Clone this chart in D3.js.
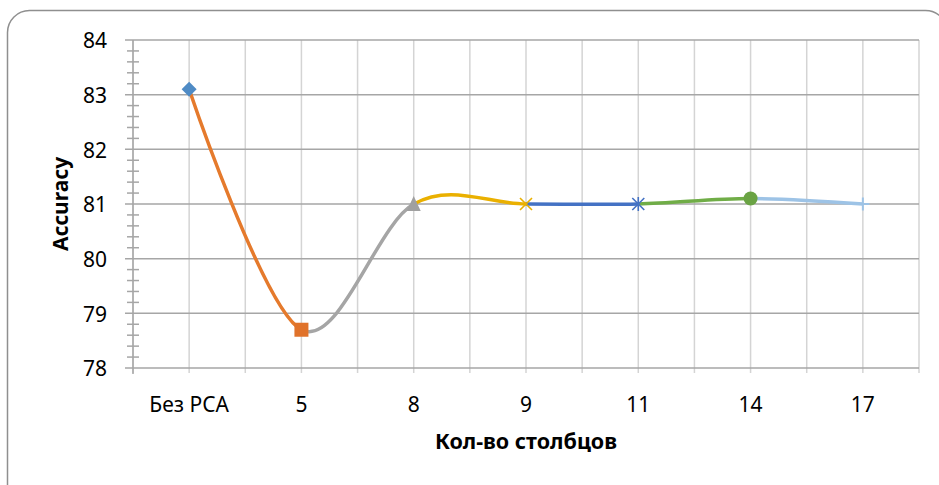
<!DOCTYPE html>
<html>
<head>
<meta charset="utf-8">
<script src="https://cdn.jsdelivr.net/npm/d3@7"></script>
<style>
  html, body { margin: 0; padding: 0; background: #fff; }
  svg { display: block; font-family: "Noto Sans", "Open Sans", sans-serif; }
</style>
</head>
<body>
<svg id="chart" width="939" height="485"></svg>
<script>
// Accuracy by number of kept columns
const categories = ["Без PCA", "5", "8", "9", "11", "14", "17"];
const accuracy = [83.1, 78.7, 81, 81, 81, 81.1, 81];
const yTicks = [78, 79, 80, 81, 82, 83, 84];
const segmentColors = ["#e57a2c", "#a5a5a5", "#eab000", "#4472c4", "#70ad47", "#9dc3e6"];
const markerShapes = ["diamond", "square", "triangle", "x", "asterisk", "circle", "plus"];
const markerColors = ["#4f8bc5", "#e0722a", "#a0a0a0", "#eab000", "#4472c4", "#6aa344", "#9dc3e6"];

const svg = d3.select("#chart");
const W = 939, H = 485;
const m = { left: 133, right: 20, top: 40, bottom: 117 };
const x0 = m.left, x1 = W - m.right, yTop = m.top, yBot = H - m.bottom;

// outer frame with rounded corners
svg.append("rect")
  .attr("x", 7.5).attr("y", 10.5)
  .attr("width", 940).attr("height", 500)
  .attr("rx", 22).attr("ry", 22)
  .attr("fill", "#fff").attr("stroke", "#8f8f8f").attr("stroke-width", 1.5);

const x = d3.scalePoint().domain(categories).range([x0, x1]).padding(0.5);
const y = d3.scaleLinear().domain([78, 84]).range([yBot, yTop]);
const step = x.step();

// vertical gridlines at category centres and boundaries
const vLines = d3.range(0, categories.length * 2 + 1).map(i => x0 + i * step / 2);
svg.append("g").selectAll("line").data(vLines).join("line")
  .attr("x1", d => d).attr("x2", d => d)
  .attr("y1", yTop).attr("y2", yBot + 5)
  .attr("stroke", "#d4d4d4").attr("stroke-width", 1.5);

// horizontal gridlines
svg.append("g").selectAll("line").data(yTicks).join("line")
  .attr("x1", x0 - 8).attr("x2", x1)
  .attr("y1", d => y(d)).attr("y2", d => y(d))
  .attr("stroke", "#a6a6a6").attr("stroke-width", 1.5);

// y axis line and minor ticks
svg.append("line")
  .attr("x1", x0).attr("x2", x0).attr("y1", yTop).attr("y2", yBot + 6)
  .attr("stroke", "#a6a6a6").attr("stroke-width", 1.5);
const minor = d3.range(78, 84.001, 0.2).filter(v => Math.abs(v - Math.round(v)) > 0.01);
svg.append("g").selectAll("line").data(minor).join("line")
  .attr("x1", x0 - 6).attr("x2", x0 + 6)
  .attr("y1", d => y(d)).attr("y2", d => y(d))
  .attr("stroke", "#a6a6a6").attr("stroke-width", 1.5);

// y tick labels
svg.append("g").selectAll("text").data(yTicks).join("text")
  .attr("x", 107).attr("y", d => y(d) + 1)
  .attr("dy", "0.35em")
  .attr("text-anchor", "end")
  .attr("font-size", 21).attr("fill", "#000")
  .text(d => d);

// x tick labels
svg.append("g").selectAll("text").data(categories).join("text")
  .attr("x", d => x(d)).attr("y", 412)
  .attr("text-anchor", "middle")
  .attr("font-size", 21).attr("fill", "#000")
  .text(d => d);

// axis titles
svg.append("text")
  .attr("x", (x0 + x1) / 2).attr("y", 449)
  .attr("text-anchor", "middle")
  .attr("font-size", 21.5).attr("font-weight", "bold")
  .text("Кол-во столбцов");
svg.append("text")
  .attr("transform", `translate(68, ${(yTop + yBot) / 2}) rotate(-90)`)
  .attr("text-anchor", "middle")
  .attr("font-size", 21).attr("font-weight", "bold")
  .text("Accuracy");

// smoothed line through all points, each segment shown in its own colour
const pts = categories.map((c, i) => [x(c), y(accuracy[i])]);
const line = d3.line().curve(d3.curveCatmullRom.alpha(0));
const defs = svg.append("defs");
segmentColors.forEach((col, i) => {
  const id = "seg" + i;
  defs.append("clipPath").attr("id", id)
    .append("rect")
    .attr("x", pts[i][0]).attr("y", 0)
    .attr("width", pts[i + 1][0] - pts[i][0]).attr("height", H);
  svg.append("path")
    .attr("d", line(pts))
    .attr("clip-path", `url(#${id})`)
    .attr("fill", "none")
    .attr("stroke", col).attr("stroke-width", 3.5);
});

// markers
const mk = svg.append("g");
pts.forEach((p, i) => {
  const [px, py] = p;
  const col = markerColors[i];
  const g = mk.append("g").attr("transform", `translate(${px},${py})`);
  switch (markerShapes[i]) {
    case "diamond":
      g.append("path").attr("d", "M0,-7.5L7.5,0L0,7.5L-7.5,0Z").attr("fill", col);
      break;
    case "square":
      g.append("rect").attr("x", -7).attr("y", -7).attr("width", 14).attr("height", 14).attr("fill", col);
      break;
    case "triangle":
      g.append("path").attr("d", "M0,-8L7,7L-7,7Z").attr("fill", col);
      break;
    case "x":
      g.append("path").attr("d", "M-6,-6L6,6M-6,6L6,-6").attr("stroke", col).attr("stroke-width", 1.6);
      break;
    case "asterisk":
      g.append("path").attr("d", "M-6,-6L6,6M-6,6L6,-6M0,-7L0,7").attr("stroke", col).attr("stroke-width", 1.6);
      break;
    case "circle":
      g.append("circle").attr("r", 7).attr("fill", col);
      break;
    case "plus":
      g.append("path").attr("d", "M0,-6.5L0,6.5M-6.5,0L6.5,0").attr("stroke", col).attr("stroke-width", 2);
      break;
  }
});
</script>
</body>
</html>
